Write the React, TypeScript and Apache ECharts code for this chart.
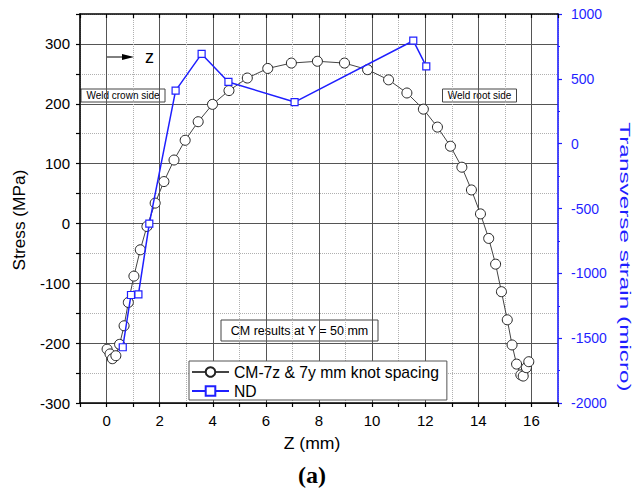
import React, { useEffect, useRef } from "react";
import * as echarts from "echarts";

const FONT = "'Liberation Sans', Arial, Helvetica, sans-serif";
const BLUE = "#1f1fff";

// CM-7z & 7y mm knot spacing (Z in mm, stress in MPa)
const cmZ = [0.02, 0.13, 0.22, 0.35, 0.49, 0.66, 0.82, 1.03, 1.27, 1.52, 1.83, 2.16, 2.54, 2.96, 3.45, 3.99, 4.61, 5.3, 6.07, 6.96, 7.94, 8.96, 9.83, 10.62, 11.31, 11.93, 12.46, 12.95, 13.38, 13.74, 14.08, 14.39, 14.65, 14.87, 15.09, 15.27, 15.44, 15.6, 15.69, 15.81, 15.9];
const cmStress = [-210, -218, -226, -221, -202, -171, -132, -88, -44, -5, 34, 70, 106, 139, 170, 199, 222, 243, 259, 268, 271, 268, 257, 240, 218, 191, 161, 129, 94, 56, 16, -25, -68, -114, -161, -203, -235, -253, -255, -241, -231];

// ND measurements (Z in mm, transverse strain in micro)
const ndZ = [0.61, 0.92, 1.2, 1.61, 2.6, 3.58, 4.59, 7.08, 11.55, 12.04];
const ndStrain = [-1570, -1167, -1162, -617, 409, 692, 476, 321, 794, 596];

const seriesNames = ["CM-7z & 7y mm knot spacing", "ND"];

const xRange = [-1, 17];
const stressRange = [-300, 350];
const strainRange = [-2000, 1000];

export default function App() {
  const ref = useRef<HTMLDivElement>(null);
  useEffect(() => {
    if (!ref.current) return;
    const chart = echarts.init(ref.current, null, { renderer: "svg" });
    const grid = { left: 80, right: 83, top: 14, bottom: 86 };
    const axisBlack = { onZero: false, lineStyle: { color: "#000", width: 1.6 } };
    chart.setOption({
      animation: false,
      textStyle: { fontFamily: FONT },
      grid: { ...grid, containLabel: false },
      legend: {
        data: seriesNames,
        orient: "vertical",
        left: 189,
        top: 361,
        padding: [3, 8, 1, 2],
        itemWidth: 37,
        itemHeight: 12,
        itemGap: 3,
        backgroundColor: "#fff",
        borderColor: "#555",
        borderWidth: 1,
        borderRadius: 0,
        textStyle: { fontSize: 15.7, color: "#000", fontFamily: FONT },
      },
      xAxis: [
        {
          type: "value",
          position: "bottom",
          min: xRange[0],
          max: xRange[1],
          interval: 1,
          axisLine: axisBlack,
          axisTick: { length: 4, lineStyle: { color: "#000", width: 1.2 } },
          axisLabel: {
            formatter: (v: number) => (v % 2 === 0 ? String(v) : ""),
            fontSize: 15,
            color: "#000",
            margin: 10,
            fontFamily: FONT,
          },
          splitLine: { show: true, lineStyle: { type: "dotted", color: "#b0b0b0", width: 1 } },
        },
        {
          type: "value",
          position: "top",
          min: xRange[0],
          max: xRange[1],
          interval: 1,
          axisLine: axisBlack,
          axisTick: { inside: true, length: 4, lineStyle: { color: "#000", width: 1.2 } },
          axisLabel: { show: false },
          splitLine: { show: true, lineStyle: { color: ["rgba(0,0,0,0)", "#555"], width: 1 } },
        },
      ],
      yAxis: [
        {
          type: "value",
          position: "left",
          min: stressRange[0],
          max: stressRange[1],
          interval: 50,
          axisLine: axisBlack,
          axisTick: { length: 4, lineStyle: { color: "#000", width: 1.2 } },
          axisLabel: {
            formatter: (v: number) => (v % 100 === 0 ? String(v) : ""),
            fontSize: 15,
            color: "#000",
            margin: 10,
            fontFamily: FONT,
          },
          splitLine: { show: true, lineStyle: { type: "dotted", color: "#b0b0b0", width: 1 } },
        },
        {
          type: "value",
          position: "right",
          min: strainRange[0],
          max: strainRange[1],
          interval: 500,
          axisLine: { onZero: false, lineStyle: { color: BLUE, width: 1.6 } },
          axisTick: { length: 4, lineStyle: { color: BLUE, width: 1.2 } },
          minorTick: { show: true, splitNumber: 2, length: 2, lineStyle: { color: BLUE, width: 1.2 } },
          axisLabel: { fontSize: 14, color: BLUE, margin: 13, fontFamily: FONT, formatter: (v: number) => String(v) },
          splitLine: { show: false },
        },
        {
          type: "value",
          position: "left",
          min: stressRange[0],
          max: stressRange[1],
          interval: 50,
          axisLine: { show: false, onZero: false },
          axisTick: { show: false },
          axisLabel: { show: false },
          splitLine: { show: true, lineStyle: { color: ["#555", "rgba(0,0,0,0)"], width: 1 } },
        },
      ],
      series: [
        {
          name: seriesNames[0],
          type: "line",
          xAxisIndex: 0,
          yAxisIndex: 0,
          data: cmZ.map((z, i) => [z, cmStress[i]]),
          symbol: "circle",
          symbolSize: 10,
          showAllSymbol: true,
          lineStyle: { color: "#444", width: 1 },
          itemStyle: { color: "#fff", borderColor: "#222", borderWidth: 1 },
          z: 3,
        },
        {
          name: seriesNames[1],
          type: "line",
          xAxisIndex: 0,
          yAxisIndex: 1,
          data: ndZ.map((z, i) => [z, ndStrain[i]]),
          symbol: "rect",
          symbolSize: 7,
          showAllSymbol: true,
          lineStyle: { color: BLUE, width: 1.5 },
          itemStyle: { color: "#fff", borderColor: BLUE, borderWidth: 1.2 },
          z: 4,
        },
      ],
      graphic: [
        { type: "line", shape: { x1: 106, y1: 57, x2: 125, y2: 57 }, style: { stroke: "#000", lineWidth: 1 } },
        { type: "polygon", shape: { points: [[122, 54], [134, 57], [122, 60]] }, style: { fill: "#000" } },
        { type: "text", x: 145, y: 57, style: { text: "z", fontSize: 18, fontFamily: FONT, fill: "#000", verticalAlign: "middle" } },
        { type: "rect", shape: { x: 81, y: 89, width: 84, height: 13 }, style: { fill: "#fff", stroke: "#444", lineWidth: 1 } },
        { type: "text", x: 123, y: 95.5, style: { text: "Weld crown side", fontSize: 10, fontFamily: FONT, fill: "#000", align: "center", verticalAlign: "middle" } },
        { type: "rect", shape: { x: 442.5, y: 89, width: 74, height: 13 }, style: { fill: "#fff", stroke: "#444", lineWidth: 1 } },
        { type: "text", x: 479.5, y: 95.5, style: { text: "Weld root side", fontSize: 10, fontFamily: FONT, fill: "#000", align: "center", verticalAlign: "middle" } },
        { type: "rect", shape: { x: 221, y: 320, width: 157, height: 21 }, style: { fill: "#fff", stroke: "#444", lineWidth: 1 } },
        { type: "text", x: 299.5, y: 330.5, style: { text: "CM results at Y = 50 mm", fontSize: 12.5, fontFamily: FONT, fill: "#000", align: "center", verticalAlign: "middle" } },
        { type: "text", x: 20, y: 220, rotation: Math.PI / 2, scaleX: 1.08, style: { text: "Stress (MPa)", fontSize: 16, fontFamily: FONT, fill: "#000", align: "center", verticalAlign: "middle" } },
        { type: "text", x: 625, y: 257, rotation: -Math.PI / 2, scaleX: 1.57, style: { text: "Transverse strain (micro)", fontSize: 15.5, fontFamily: FONT, fill: BLUE, align: "center", verticalAlign: "middle" } },
        { type: "text", x: 312, y: 444, scaleX: 1.1, style: { text: "Z (mm)", fontSize: 16, fontFamily: FONT, fill: "#000", align: "center", verticalAlign: "middle" } },
        { type: "text", x: 312, y: 475, style: { text: "(a)", fontSize: 24, fontWeight: "bold", fontFamily: "'Liberation Serif', 'Times New Roman', serif", fill: "#000", align: "center", verticalAlign: "middle" } },
      ],
    });
    return () => chart.dispose();
  }, []);
  return <div ref={ref} style={{ position: "absolute", left: 0, top: 0, width: 641, height: 489 }} />;
}
